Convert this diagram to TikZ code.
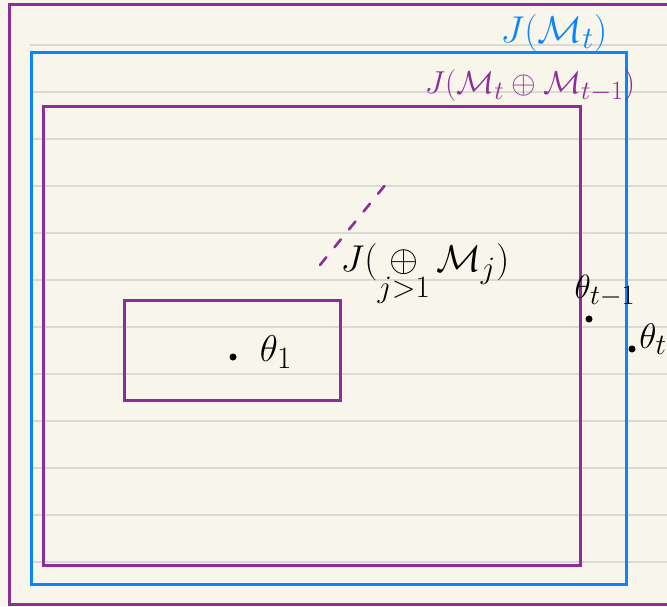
\documentclass[tikz,border=0pt]{standalone}
\usetikzlibrary{calc}
\definecolor{paper}{HTML}{F8F5EA}
\definecolor{lila}{HTML}{8E2C98}
\definecolor{azure}{HTML}{0A84FF}
\definecolor{ruling}{HTML}{D9D9D6}

\begin{document}
\begin{tikzpicture}[x=1pt,y=-1pt,
  box/.style={line width=3pt},
  hand/.style={inner sep=0pt,font=\Huge,scale=1.5},
  pt/.style={circle,fill=black,inner sep=0pt,minimum size=7pt}]
\fill[paper] (0,0) rectangle (667,606);
\useasboundingbox (0,0) rectangle (667,606);
\foreach \y in {45,92,...,563}{\draw[ruling,line width=1.3pt] (30,\y)--(667,\y);}
\coordinate (O1) at (9,4); \coordinate (O2) at (700,604);
\coordinate (B1) at (31,52); \coordinate (B2) at (626,584);
\coordinate (P1) at (43,106); \coordinate (P2) at (580,565);
\coordinate (S1) at (124,300); \coordinate (S2) at (340,400);
\draw[box,lila] (O1) rectangle (O2);
\draw[box,azure] (B1) rectangle (B2);
\draw[box,lila] (P1) rectangle (P2);
\draw[box,lila] (S1) rectangle (S2);
\node[hand,azure] (Jt) at (554,33) {$J(\mathcal{M}_t)$};
\node[hand,lila,scale=0.85] (Jtt) at (530,86) {$J(\mathcal{M}_t\oplus\mathcal{M}_{t-1})$};
\node[hand] (Jj) at (425,274) {$J(\mathop{\oplus}\limits_{j>1}\mathcal{M}_j)$};
\coordinate (d1) at (320,265); \coordinate (d2) at (386,184);
\draw[lila,line width=2.6pt,dash pattern=on 10pt off 13pt,line cap=round] (d1)--(d2);
\node[pt] (p1) at (233,357) {};
\node[pt] (pt1) at (589,319) {};
\node[pt] (pt) at (632,349) {};
\node[hand] (th1) at (276,352) {$\theta_1$};
\node[hand,scale=0.9] (tht1) at (605,291) {$\theta_{t-1}$};
\node[hand,scale=0.95] (tht) at (653,339) {$\theta_t$};
\end{tikzpicture}
\end{document}
